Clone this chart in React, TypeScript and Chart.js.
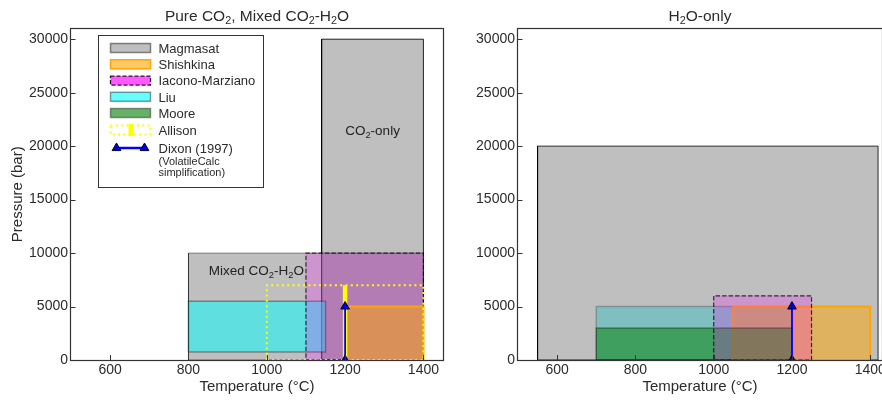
import React, { useEffect, useRef } from 'react';
import { Chart, registerables } from 'chart.js';

Chart.register(...registerables);

const FONT = "'Liberation Sans', Arial, Helvetica, sans-serif";
const TEXT = '#2b2b2b';
const FRAME = '#333333';

// Axes
const xTicks = [600, 800, 1000, 1200, 1400];
const yTicks = [0, 5000, 10000, 15000, 20000, 25000, 30000];
const xRangeLeft = [500, 1450];
const xRangeRight = [500, 1430];
const yRange = [0, 31000];

// Calibration boxes: [T min, T max, P min, P max]
const leftMagmasatCO2 = [1140, 1400, 0, 30000];
const leftMagmasatMixed = [800, 1400, 0, 10000];
const leftLiu = [800, 1150, 750, 5500];
const leftIacono = [1100, 1400, 0, 10000];
const leftShishkina = [1200, 1400, 0, 5000];
const leftAllison = [1000, 1400, 0, 7000];
// Vertical segments: [T, P min, P max]
const leftAllisonBar = [1200, 0, 7000];
const leftDixon = [1200, 0, 5000];

const rightLiu = [700, 1200, 0, 5000];
const rightMagmasat = [550, 1420, 0, 20000];
const rightShishkina = [1050, 1400, 0, 5000];
const rightMoore = [700, 1200, 0, 3000];
const rightIacono = [1000, 1250, 0, 6000];
const rightDixon = [1200, 0, 5000];

// Annotation anchors [T, P]
const co2OnlyLabelAt = [1270, 21500];
const mixedLabelAt = [1095, 8400];

const legendLabels = ['Magmasat', 'Shishkina', 'Iacono-Marziano', 'Liu', 'Moore', 'Allison', 'Dixon (1997)'];
const legendNote = ['(VolatileCalc', 'simplification)'];

type Seg = [string, boolean];

function boxPoints(b: number[]) {
  return [
    { x: b[0], y: b[2] },
    { x: b[1], y: b[2] },
    { x: b[1], y: b[3] },
    { x: b[0], y: b[3] },
    { x: b[0], y: b[2] },
  ];
}

function boxDs(b: number[], fill: string | null, stroke: string, width: number, dash: number[] = []) {
  return {
    data: boxPoints(b),
    backgroundColor: fill || 'rgba(0,0,0,0)',
    borderColor: stroke,
    borderWidth: width,
    borderDash: dash,
    borderJoinStyle: 'miter',
    borderCapStyle: 'butt',
    fill: fill ? 'shape' : false,
    pointRadius: 0,
    tension: 0,
  };
}

function vDs(s: number[], color: string, width: number, markers: boolean) {
  return {
    data: [
      { x: s[0], y: s[1] },
      { x: s[0], y: s[2] },
    ],
    borderColor: color,
    borderWidth: width,
    fill: false,
    tension: 0,
    pointStyle: 'triangle',
    pointRadius: markers ? 5 : 0,
    pointBackgroundColor: '#0000e0',
    pointBorderColor: '#000022',
    pointBorderWidth: 1,
  };
}

function ordered(list: any[]) {
  return list.map((d, i) => ({ ...d, order: list.length - i }));
}

function drawRich(ctx: CanvasRenderingContext2D, segs: Seg[], x: number, baseline: number, size: number, align: string, color: string) {
  const main = `${size}px ${FONT}`;
  const sub = `${(size * 0.7).toFixed(1)}px ${FONT}`;
  let total = 0;
  const widths = segs.map(([t, s]) => {
    ctx.font = s ? sub : main;
    const w = ctx.measureText(t).width;
    total += w;
    return w;
  });
  let cx = align === 'left' ? x : align === 'center' ? x - total / 2 : x - total;
  ctx.fillStyle = color;
  ctx.textAlign = 'left';
  ctx.textBaseline = 'alphabetic';
  segs.forEach(([t, s], i) => {
    ctx.font = s ? sub : main;
    ctx.fillText(t, cx, s ? baseline + size * 0.22 : baseline);
    cx += widths[i];
  });
}

function drawFrameAndTicks(chart: any) {
  const ctx = chart.ctx as CanvasRenderingContext2D;
  const { left, right, top, bottom } = chart.chartArea;
  const xs = chart.scales.x;
  const ys = chart.scales.y;
  ctx.save();
  ctx.strokeStyle = FRAME;
  ctx.lineWidth = 1;
  ctx.setLineDash([]);
  ctx.beginPath();
  xTicks.forEach((v) => {
    const px = Math.round(xs.getPixelForValue(v)) + 0.5;
    ctx.moveTo(px, bottom);
    ctx.lineTo(px, bottom - 5);
  });
  yTicks.forEach((v) => {
    const py = Math.round(ys.getPixelForValue(v)) + 0.5;
    ctx.moveTo(left, py);
    ctx.lineTo(left + 4.5, py);
  });
  ctx.stroke();
  ctx.lineWidth = 1.2;
  ctx.strokeRect(Math.round(left) - 0.5, Math.round(top) - 0.5, Math.round(right) - Math.round(left) + 1, Math.round(bottom) - Math.round(top) + 1);
  ctx.restore();
}

function patch(ctx: CanvasRenderingContext2D, x: number, yc: number, fill: string | null, stroke: string, lw: number, dash: number[] = []) {
  const w = 40;
  const h = 9;
  const y = yc - h / 2;
  if (fill) {
    ctx.fillStyle = fill;
    ctx.fillRect(x, y, w, h);
  }
  ctx.strokeStyle = stroke;
  ctx.lineWidth = lw;
  ctx.setLineDash(dash);
  ctx.strokeRect(x, y, w, h);
  ctx.setLineDash([]);
}

function triangle(ctx: CanvasRenderingContext2D, x: number, y: number) {
  ctx.beginPath();
  ctx.moveTo(x, y - 5);
  ctx.lineTo(x + 4.4, y + 2.6);
  ctx.lineTo(x - 4.4, y + 2.6);
  ctx.closePath();
  ctx.fillStyle = '#0000e0';
  ctx.fill();
  ctx.strokeStyle = '#000022';
  ctx.lineWidth = 1;
  ctx.stroke();
}

function drawLegend(ctx: CanvasRenderingContext2D, area: any) {
  const bx = area.left + 27.5;
  const by = area.top + 7;
  const bw = 165;
  const bh = 152;
  ctx.save();
  ctx.fillStyle = '#ffffff';
  ctx.fillRect(bx, by, bw, bh);
  ctx.strokeStyle = '#333333';
  ctx.lineWidth = 1;
  ctx.strokeRect(bx, by, bw, bh);

  const rows = [48, 64.3, 80.6, 96.8, 113, 130, 148].map((r) => r - 28.5 + area.top);
  const px = bx + 12;
  const tx = bx + 60;

  patch(ctx, px, rows[0], 'rgba(128,128,128,0.5)', 'rgba(0,0,0,0.45)', 1.5);
  patch(ctx, px, rows[1], 'rgba(255,165,0,0.6)', 'rgba(255,165,0,1)', 1.5);
  patch(ctx, px, rows[2], 'rgba(255,0,255,0.65)', 'rgba(0,0,0,0.85)', 1.3, [4, 2]);
  patch(ctx, px, rows[3], 'rgba(0,255,255,0.6)', 'rgba(0,0,0,0.4)', 1.5);
  patch(ctx, px, rows[4], 'rgba(0,128,0,0.6)', 'rgba(0,0,0,0.4)', 1.5);
  patch(ctx, px, rows[5], null, '#ffff00', 2, [2, 3.3]);
  ctx.fillStyle = '#ffff00';
  ctx.fillRect(px + 18, rows[5] - 6, 4.5, 12);

  ctx.strokeStyle = '#0000ff';
  ctx.lineWidth = 2.5;
  ctx.beginPath();
  ctx.moveTo(px + 6, rows[6]);
  ctx.lineTo(px + 34, rows[6]);
  ctx.stroke();
  triangle(ctx, px + 6, rows[6]);
  triangle(ctx, px + 34, rows[6]);

  ctx.fillStyle = TEXT;
  ctx.textAlign = 'left';
  ctx.textBaseline = 'alphabetic';
  ctx.font = `13px ${FONT}`;
  legendLabels.forEach((l, i) => {
    ctx.fillText(l, tx, rows[i] + 4.7);
  });
  ctx.font = `11px ${FONT}`;
  ctx.fillText(legendNote[0], tx, rows[6] + 17);
  ctx.fillText(legendNote[1], tx, rows[6] + 27.5);
  ctx.restore();
}

function xScale(range: number[]) {
  return {
    type: 'linear',
    min: range[0],
    max: range[1],
    afterBuildTicks: (s: any) => {
      s.ticks = xTicks.map((v) => ({ value: v }));
    },
    afterFit: (s: any) => {
      s.height = 41;
    },
    grid: { display: false, drawTicks: false },
    border: { display: false },
    ticks: {
      font: { family: FONT, size: 14 },
      color: TEXT,
      padding: 2,
      autoSkip: false,
      maxRotation: 0,
      callback: (v: any) => String(v),
    },
    title: {
      display: true,
      text: 'Temperature (°C)',
      font: { family: FONT, size: 15 },
      color: TEXT,
      padding: { top: 0, bottom: 5 },
    },
  };
}

function yScale(width: number, showTitle: boolean) {
  return {
    type: 'linear',
    min: yRange[0],
    max: yRange[1],
    afterBuildTicks: (s: any) => {
      s.ticks = yTicks.map((v) => ({ value: v }));
    },
    afterFit: (s: any) => {
      s.width = width;
    },
    grid: { display: false, drawTicks: false },
    border: { display: false },
    ticks: {
      font: { family: FONT, size: 14 },
      color: TEXT,
      padding: 3,
      autoSkip: false,
      callback: (v: any) => String(v),
    },
    title: {
      display: showTitle,
      text: 'Pressure (bar)',
      font: { family: FONT, size: 15 },
      color: TEXT,
      padding: { top: 9, bottom: 0 },
    },
  };
}

const baseOptions = {
  responsive: false,
  animation: false,
  events: [],
  plugins: { legend: { display: false }, tooltip: { enabled: false }, title: { display: false } },
};

function leftConfig(): any {
  const datasets = ordered([
    boxDs(leftMagmasatCO2, 'rgba(128,128,128,0.5)', 'rgba(0,0,0,0.85)', 1),
    boxDs(leftMagmasatMixed, 'rgba(128,128,128,0.5)', 'rgba(0,0,0,0.4)', 1),
    boxDs(leftLiu, 'rgba(0,255,255,0.5)', 'rgba(0,0,0,0.35)', 1.5),
    boxDs(leftIacono, 'rgba(255,0,255,0.22)', 'rgba(0,0,0,0.75)', 1.2, [4.5, 2]),
    boxDs(leftShishkina, 'rgba(255,165,0,0.5)', 'rgba(255,165,0,1)', 2),
    boxDs(leftAllison, null, '#ffff00', 2, [2, 3.3]),
    vDs(leftAllisonBar, '#ffff00', 4.5, false),
    vDs(leftDixon, '#0000ff', 1.8, true),
  ]);
  const deco = {
    id: 'leftDeco',
    afterDatasetsDraw(chart: any) {
      const ctx = chart.ctx as CanvasRenderingContext2D;
      const xs = chart.scales.x;
      const ys = chart.scales.y;
      drawFrameAndTicks(chart);
      ctx.save();
      drawRich(ctx, [['CO', false], ['2', true], ['-only', false]], xs.getPixelForValue(co2OnlyLabelAt[0]), ys.getPixelForValue(co2OnlyLabelAt[1]) + 4.8, 13.5, 'center', '#222');
      drawRich(ctx, [['Mixed CO', false], ['2', true], ['-H', false], ['2', true], ['O', false]], xs.getPixelForValue(mixedLabelAt[0]), ys.getPixelForValue(mixedLabelAt[1]) + 4.8, 13.5, 'right', '#222');
      ctx.restore();
      drawLegend(ctx, chart.chartArea);
      const { left, right } = chart.chartArea;
      drawRich(ctx, [['Pure CO', false], ['2', true], [', Mixed CO', false], ['2', true], ['-H', false], ['2', true], ['O', false]], (left + right) / 2, 20.5, 15.5, 'center', TEXT);
    },
  };
  return {
    type: 'line',
    data: { datasets },
    options: {
      ...baseOptions,
      layout: { padding: { top: 28.5, right: 17, bottom: 0, left: 0 } },
      scales: { x: xScale(xRangeLeft), y: yScale(71, true) },
    },
    plugins: [deco],
  };
}

function rightConfig(): any {
  const datasets = ordered([
    boxDs(rightLiu, 'rgba(0,255,255,0.5)', 'rgba(0,0,0,0.35)', 1.5),
    boxDs(rightMagmasat, 'rgba(128,128,128,0.5)', 'rgba(0,0,0,0.8)', 1),
    boxDs(rightShishkina, 'rgba(255,165,0,0.5)', 'rgba(255,165,0,1)', 2),
    boxDs(rightMoore, 'rgba(0,128,0,0.5)', 'rgba(0,0,0,0.35)', 1.5),
    boxDs(rightIacono, 'rgba(255,0,255,0.22)', 'rgba(0,0,0,0.75)', 1.2, [4.5, 2]),
    vDs(rightDixon, '#0000ff', 1.8, true),
  ]);
  const deco = {
    id: 'rightDeco',
    afterDatasetsDraw(chart: any) {
      const ctx = chart.ctx as CanvasRenderingContext2D;
      drawFrameAndTicks(chart);
      const { left, right } = chart.chartArea;
      drawRich(ctx, [['H', false], ['2', true], ['O-only', false]], (left + right) / 2, 20.5, 15.5, 'center', TEXT);
    },
  };
  return {
    type: 'line',
    data: { datasets },
    options: {
      ...baseOptions,
      layout: { padding: { top: 28.5, right: 18, bottom: 0, left: 0 } },
      scales: { x: xScale(xRangeRight), y: yScale(58, false) },
    },
    plugins: [deco],
  };
}

export default function App() {
  const leftRef = useRef<HTMLCanvasElement>(null);
  const rightRef = useRef<HTMLCanvasElement>(null);
  useEffect(() => {
    const c1 = new Chart(leftRef.current as HTMLCanvasElement, leftConfig());
    const c2 = new Chart(rightRef.current as HTMLCanvasElement, rightConfig());
    return () => {
      c1.destroy();
      c2.destroy();
    };
  }, []);
  return (
    <div style={{ position: 'absolute', left: 0, top: 0, width: 882, height: 401, overflow: 'hidden', background: '#ffffff' }}>
      <canvas ref={leftRef} width={460} height={401} style={{ position: 'absolute', left: 0, top: 0, width: 460, height: 401 }} />
      <canvas ref={rightRef} width={440} height={401} style={{ position: 'absolute', left: 460, top: 0, width: 440, height: 401 }} />
    </div>
  );
}
